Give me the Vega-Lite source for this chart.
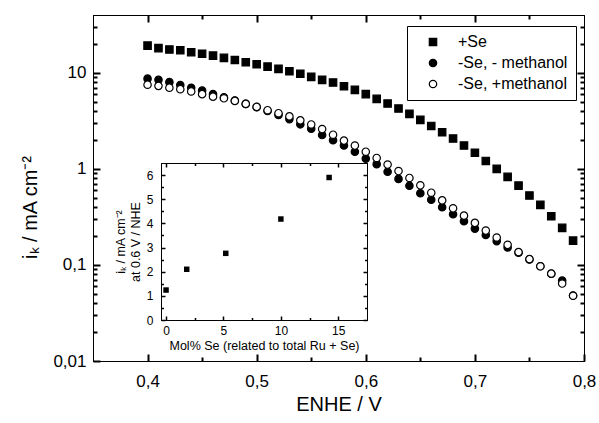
{
  "$schema": "https://vega.github.io/schema/vega-lite/v6.json",
  "width": 491,
  "height": 346,
  "autosize": {"type": "none"},
  "padding": {"left": 93, "top": 15, "right": 15, "bottom": 62},
  "background": "white",
  "config": {
    "view": {"stroke": "black", "strokeWidth": 1},
    "axis": {"labelFont": "Liberation Sans", "titleFont": "Liberation Sans", "labelColor": "black", "titleColor": "black", "domainColor": "black", "grid": false, "titleFontWeight": "normal", "labelFlush": false, "labelOverlap": false},
    "legend": {"labelFont": "Liberation Sans", "labelColor": "black"}
  },
  "datasets": {
    "main": [
      {"E": 0.40, "ik": 19.2, "series": "+Se"},
      {"E": 0.41, "ik": 18.1, "series": "+Se"},
      {"E": 0.42, "ik": 17.5, "series": "+Se"},
      {"E": 0.43, "ik": 17.2, "series": "+Se"},
      {"E": 0.44, "ik": 16.4, "series": "+Se"},
      {"E": 0.45, "ik": 15.8, "series": "+Se"},
      {"E": 0.46, "ik": 15.1, "series": "+Se"},
      {"E": 0.47, "ik": 14.3, "series": "+Se"},
      {"E": 0.48, "ik": 13.6, "series": "+Se"},
      {"E": 0.49, "ik": 12.9, "series": "+Se"},
      {"E": 0.50, "ik": 12.3, "series": "+Se"},
      {"E": 0.51, "ik": 11.6, "series": "+Se"},
      {"E": 0.52, "ik": 11.0, "series": "+Se"},
      {"E": 0.53, "ik": 10.4, "series": "+Se"},
      {"E": 0.54, "ik": 9.77, "series": "+Se"},
      {"E": 0.55, "ik": 9.08, "series": "+Se"},
      {"E": 0.56, "ik": 8.45, "series": "+Se"},
      {"E": 0.57, "ik": 7.93, "series": "+Se"},
      {"E": 0.58, "ik": 7.26, "series": "+Se"},
      {"E": 0.59, "ik": 6.65, "series": "+Se"},
      {"E": 0.60, "ik": 6.0, "series": "+Se"},
      {"E": 0.61, "ik": 5.36, "series": "+Se"},
      {"E": 0.62, "ik": 4.79, "series": "+Se"},
      {"E": 0.63, "ik": 4.25, "series": "+Se"},
      {"E": 0.64, "ik": 3.74, "series": "+Se"},
      {"E": 0.65, "ik": 3.24, "series": "+Se"},
      {"E": 0.66, "ik": 2.80, "series": "+Se"},
      {"E": 0.67, "ik": 2.41, "series": "+Se"},
      {"E": 0.68, "ik": 2.07, "series": "+Se"},
      {"E": 0.69, "ik": 1.75, "series": "+Se"},
      {"E": 0.70, "ik": 1.47, "series": "+Se"},
      {"E": 0.71, "ik": 1.21, "series": "+Se"},
      {"E": 0.72, "ik": 1.0, "series": "+Se"},
      {"E": 0.73, "ik": 0.825, "series": "+Se"},
      {"E": 0.74, "ik": 0.67, "series": "+Se"},
      {"E": 0.75, "ik": 0.528, "series": "+Se"},
      {"E": 0.76, "ik": 0.422, "series": "+Se"},
      {"E": 0.77, "ik": 0.321, "series": "+Se"},
      {"E": 0.78, "ik": 0.243, "series": "+Se"},
      {"E": 0.79, "ik": 0.179, "series": "+Se"},
      {"E": 0.40, "ik": 8.7, "series": "-Se, - methanol"},
      {"E": 0.41, "ik": 8.45, "series": "-Se, - methanol"},
      {"E": 0.42, "ik": 8.0, "series": "-Se, - methanol"},
      {"E": 0.43, "ik": 7.45, "series": "-Se, - methanol"},
      {"E": 0.44, "ik": 7.0, "series": "-Se, - methanol"},
      {"E": 0.45, "ik": 6.55, "series": "-Se, - methanol"},
      {"E": 0.46, "ik": 6.0, "series": "-Se, - methanol"},
      {"E": 0.47, "ik": 5.55, "series": "-Se, - methanol"},
      {"E": 0.48, "ik": 5.15, "series": "-Se, - methanol"},
      {"E": 0.49, "ik": 4.75, "series": "-Se, - methanol"},
      {"E": 0.50, "ik": 4.4, "series": "-Se, - methanol"},
      {"E": 0.51, "ik": 4.0, "series": "-Se, - methanol"},
      {"E": 0.52, "ik": 3.65, "series": "-Se, - methanol"},
      {"E": 0.53, "ik": 3.3, "series": "-Se, - methanol"},
      {"E": 0.54, "ik": 2.91, "series": "-Se, - methanol"},
      {"E": 0.55, "ik": 2.62, "series": "-Se, - methanol"},
      {"E": 0.56, "ik": 2.25, "series": "-Se, - methanol"},
      {"E": 0.57, "ik": 1.99, "series": "-Se, - methanol"},
      {"E": 0.58, "ik": 1.75, "series": "-Se, - methanol"},
      {"E": 0.59, "ik": 1.51, "series": "-Se, - methanol"},
      {"E": 0.60, "ik": 1.28, "series": "-Se, - methanol"},
      {"E": 0.61, "ik": 1.12, "series": "-Se, - methanol"},
      {"E": 0.62, "ik": 0.935, "series": "-Se, - methanol"},
      {"E": 0.63, "ik": 0.787, "series": "-Se, - methanol"},
      {"E": 0.64, "ik": 0.668, "series": "-Se, - methanol"},
      {"E": 0.65, "ik": 0.558, "series": "-Se, - methanol"},
      {"E": 0.66, "ik": 0.478, "series": "-Se, - methanol"},
      {"E": 0.67, "ik": 0.399, "series": "-Se, - methanol"},
      {"E": 0.68, "ik": 0.337, "series": "-Se, - methanol"},
      {"E": 0.69, "ik": 0.285, "series": "-Se, - methanol"},
      {"E": 0.70, "ik": 0.239, "series": "-Se, - methanol"},
      {"E": 0.71, "ik": 0.205, "series": "-Se, - methanol"},
      {"E": 0.72, "ik": 0.177, "series": "-Se, - methanol"},
      {"E": 0.73, "ik": 0.152, "series": "-Se, - methanol"},
      {"E": 0.74, "ik": 0.134, "series": "-Se, - methanol"},
      {"E": 0.75, "ik": 0.114, "series": "-Se, - methanol"},
      {"E": 0.76, "ik": 0.097, "series": "-Se, - methanol"},
      {"E": 0.77, "ik": 0.081, "series": "-Se, - methanol"},
      {"E": 0.78, "ik": 0.0687, "series": "-Se, - methanol"},
      {"E": 0.79, "ik": 0.048, "series": "-Se, - methanol"},
      {"E": 0.40, "ik": 7.52, "series": "-Se, +methanol"},
      {"E": 0.41, "ik": 7.32, "series": "-Se, +methanol"},
      {"E": 0.42, "ik": 7.0, "series": "-Se, +methanol"},
      {"E": 0.43, "ik": 6.75, "series": "-Se, +methanol"},
      {"E": 0.44, "ik": 6.4, "series": "-Se, +methanol"},
      {"E": 0.45, "ik": 6.0, "series": "-Se, +methanol"},
      {"E": 0.46, "ik": 5.65, "series": "-Se, +methanol"},
      {"E": 0.47, "ik": 5.43, "series": "-Se, +methanol"},
      {"E": 0.48, "ik": 5.1, "series": "-Se, +methanol"},
      {"E": 0.49, "ik": 4.75, "series": "-Se, +methanol"},
      {"E": 0.50, "ik": 4.42, "series": "-Se, +methanol"},
      {"E": 0.51, "ik": 4.08, "series": "-Se, +methanol"},
      {"E": 0.52, "ik": 3.8, "series": "-Se, +methanol"},
      {"E": 0.53, "ik": 3.52, "series": "-Se, +methanol"},
      {"E": 0.54, "ik": 3.2, "series": "-Se, +methanol"},
      {"E": 0.55, "ik": 2.9, "series": "-Se, +methanol"},
      {"E": 0.56, "ik": 2.6, "series": "-Se, +methanol"},
      {"E": 0.57, "ik": 2.27, "series": "-Se, +methanol"},
      {"E": 0.58, "ik": 1.97, "series": "-Se, +methanol"},
      {"E": 0.59, "ik": 1.75, "series": "-Se, +methanol"},
      {"E": 0.60, "ik": 1.51, "series": "-Se, +methanol"},
      {"E": 0.61, "ik": 1.30, "series": "-Se, +methanol"},
      {"E": 0.62, "ik": 1.11, "series": "-Se, +methanol"},
      {"E": 0.63, "ik": 0.95, "series": "-Se, +methanol"},
      {"E": 0.64, "ik": 0.805, "series": "-Se, +methanol"},
      {"E": 0.65, "ik": 0.675, "series": "-Se, +methanol"},
      {"E": 0.66, "ik": 0.565, "series": "-Se, +methanol"},
      {"E": 0.67, "ik": 0.47, "series": "-Se, +methanol"},
      {"E": 0.68, "ik": 0.389, "series": "-Se, +methanol"},
      {"E": 0.69, "ik": 0.326, "series": "-Se, +methanol"},
      {"E": 0.70, "ik": 0.274, "series": "-Se, +methanol"},
      {"E": 0.71, "ik": 0.228, "series": "-Se, +methanol"},
      {"E": 0.72, "ik": 0.193, "series": "-Se, +methanol"},
      {"E": 0.73, "ik": 0.162, "series": "-Se, +methanol"},
      {"E": 0.74, "ik": 0.136, "series": "-Se, +methanol"},
      {"E": 0.75, "ik": 0.115, "series": "-Se, +methanol"},
      {"E": 0.76, "ik": 0.0968, "series": "-Se, +methanol"},
      {"E": 0.77, "ik": 0.0812, "series": "-Se, +methanol"},
      {"E": 0.78, "ik": 0.064, "series": "-Se, +methanol"},
      {"E": 0.79, "ik": 0.0478, "series": "-Se, +methanol"}
    ],
    "inset": [
      {"mol": 0, "ik06": 1.24},
      {"mol": 1.8, "ik06": 2.1},
      {"mol": 5.2, "ik06": 2.76},
      {"mol": 10, "ik06": 4.18},
      {"mol": 14.2, "ik06": 5.9}
    ]
  },
  "resolve": {"scale": {"x": "independent", "y": "independent"}},
  "layer": [
    {
      "data": {"name": "main"},
      "mark": {"type": "point", "size": 55, "strokeWidth": 1.2, "opacity": 1},
      "encoding": {
        "x": {"field": "E", "type": "quantitative", "scale": {"domain": [0.35, 0.8], "nice": false, "zero": false},
          "axis": {"orient": "bottom", "values": [0.4, 0.5, 0.6, 0.7, 0.8], "tickSize": -7, "tickColor": "black", "tickWidth": 2, "labelPadding": 19, "labelFontSize": 17, "domain": true,
            "labelExpr": "replace(format(datum.value, '.1f'), '.', ',')",
            "title": "ENHE / V", "titleFontSize": 20, "titleY": 49, "titleBaseline": "alphabetic"}},
        "y": {"field": "ik", "type": "quantitative", "scale": {"type": "log", "domain": [0.01, 40], "nice": false},
          "axis": {"orient": "left", "values": [0.01, 0.1, 1, 10], "tickSize": -7, "tickColor": "black", "tickWidth": 2, "labelPadding": 14, "labelFontSize": 17, "domain": true,
            "labelExpr": "datum.value >= 1 ? format(datum.value, 'd') : replace(format(datum.value, '~g'), '.', ',')",
            "title": "iₖ / mA cm⁻²", "titleFontSize": 20, "titleX": -63, "titleY": 192, "titleAngle": -90, "titleAlign": "center", "titleBaseline": "middle"}},
        "shape": {"field": "series", "type": "nominal",
          "scale": {"domain": ["+Se", "-Se, - methanol", "-Se, +methanol"], "range": ["square", "circle", "circle"]},
          "legend": {"title": null, "orient": "none", "legendX": 314, "legendY": 11, "strokeColor": "black", "padding": 8, "labelFontSize": 16, "symbolSize": 55, "symbolStrokeWidth": 1.2, "symbolOffset": 10, "labelOffset": 17, "rowPadding": 5}},
        "fill": {"field": "series", "type": "nominal",
          "scale": {"domain": ["+Se", "-Se, - methanol", "-Se, +methanol"], "range": ["black", "black", "white"]},
          "legend": {"title": null, "orient": "none", "legendX": 314, "legendY": 11, "strokeColor": "black", "padding": 8, "labelFontSize": 16, "symbolSize": 55, "symbolStrokeWidth": 1.2, "symbolOffset": 10, "labelOffset": 17, "rowPadding": 5}},
        "stroke": {"field": "series", "type": "nominal",
          "scale": {"domain": ["+Se", "-Se, - methanol", "-Se, +methanol"], "range": ["black", "black", "black"]},
          "legend": {"title": null, "orient": "none", "legendX": 314, "legendY": 11, "strokeColor": "black", "padding": 8, "labelFontSize": 16, "symbolSize": 55, "symbolStrokeWidth": 1.2, "symbolOffset": 10, "labelOffset": 17, "rowPadding": 5}}
      }
    },
    {
      "data": {"name": "main"},
      "mark": {"type": "point", "opacity": 0},
      "encoding": {
        "x": {"field": "E", "type": "quantitative", "scale": {"domain": [0.35, 0.8], "nice": false, "zero": false},
          "axis": {"orient": "top", "values": [0.4, 0.5, 0.6, 0.7], "tickSize": -7, "tickColor": "black", "tickWidth": 2, "labels": false, "domain": true, "title": null}},
        "y": {"field": "ik", "type": "quantitative", "scale": {"type": "log", "domain": [0.01, 40], "nice": false},
          "axis": {"orient": "right", "values": [0.1, 1, 10], "tickSize": -7, "tickColor": "black", "tickWidth": 2, "labels": false, "domain": true, "title": null}}
      }
    },
    {
      "data": {"name": "main"},
      "mark": {"type": "point", "opacity": 0},
      "encoding": {
        "x": {"field": "E", "type": "quantitative", "scale": {"domain": [0.35, 0.8], "nice": false, "zero": false},
          "axis": {"orient": "bottom", "values": [0.45, 0.55, 0.65, 0.75], "tickSize": -4, "tickColor": "black", "tickWidth": 2, "labels": false, "domain": true, "title": null}},
        "y": {"field": "ik", "type": "quantitative", "scale": {"type": "log", "domain": [0.01, 40], "nice": false},
          "axis": {"orient": "left", "values": [0.02, 0.03, 0.04, 0.05, 0.06, 0.07, 0.08, 0.09, 0.2, 0.3, 0.4, 0.5, 0.6, 0.7, 0.8, 0.9, 2, 3, 4, 5, 6, 7, 8, 9, 20, 30], "tickSize": -4, "tickColor": "black", "tickWidth": 2, "labels": false, "domain": true, "title": null}}
      }
    },
    {
      "data": {"name": "main"},
      "mark": {"type": "point", "opacity": 0},
      "encoding": {
        "x": {"field": "E", "type": "quantitative", "scale": {"domain": [0.35, 0.8], "nice": false, "zero": false},
          "axis": {"orient": "top", "values": [0.45, 0.55, 0.65, 0.75], "tickSize": -4, "tickColor": "black", "tickWidth": 2, "labels": false, "domain": true, "title": null}},
        "y": {"field": "ik", "type": "quantitative", "scale": {"type": "log", "domain": [0.01, 40], "nice": false},
          "axis": {"orient": "right", "values": [0.02, 0.03, 0.04, 0.05, 0.06, 0.07, 0.08, 0.09, 0.2, 0.3, 0.4, 0.5, 0.6, 0.7, 0.8, 0.9, 2, 3, 4, 5, 6, 7, 8, 9, 20, 30], "tickSize": -4, "tickColor": "black", "tickWidth": 2, "labels": false, "domain": true, "title": null}}
      }
    },
    {
      "data": {"name": "inset"},
      "mark": {"type": "square", "size": 30, "color": "black", "opacity": 1},
      "encoding": {
        "x": {"field": "mol", "type": "quantitative", "scale": {"domain": [-0.44, 17.5], "range": [68, 274], "nice": false, "zero": false},
          "axis": {"orient": "bottom", "offset": -41, "values": [0, 5, 10, 15], "tickSize": -4, "tickColor": "black", "tickWidth": 1.5, "labelPadding": 9, "labelFontSize": 12, "domain": true,
            "title": "Mol% Se (related to total Ru + Se)", "titleFontSize": 12.5, "titleY": 25, "titleBaseline": "middle"}},
        "y": {"field": "ik06", "type": "quantitative", "scale": {"domain": [0, 6.5], "range": [305, 148], "nice": false, "zero": false},
          "axis": {"orient": "left", "offset": -68, "values": [0, 1, 2, 3, 4, 5, 6], "tickSize": -4, "tickColor": "black", "tickWidth": 1.5, "labelPadding": 12, "labelFontSize": 12, "domain": true,
            "title": ["iₖ / mA cm⁻²", "at 0.6 V / NHE"], "titleFontSize": 12.5, "titleLineHeight": 15, "titleX": -41, "titleAngle": -90, "titleAlign": "center", "titleBaseline": "middle"}}
      }
    },
    {
      "data": {"name": "inset"},
      "mark": {"type": "point", "opacity": 0},
      "encoding": {
        "x": {"field": "mol", "type": "quantitative", "scale": {"domain": [-0.44, 17.5], "range": [68, 274], "nice": false, "zero": false},
          "axis": {"orient": "top", "offset": -148, "values": [0, 5, 10, 15], "tickSize": -4, "tickColor": "black", "tickWidth": 1.5, "labels": false, "domain": true, "title": null}},
        "y": {"field": "ik06", "type": "quantitative", "scale": {"domain": [0, 6.5], "range": [305, 148], "nice": false, "zero": false},
          "axis": {"orient": "right", "offset": -217, "values": [0, 1, 2, 3, 4, 5, 6], "tickSize": -4, "tickColor": "black", "tickWidth": 1.5, "labels": false, "domain": true, "title": null}}
      }
    },
    {
      "data": {"name": "inset"},
      "mark": {"type": "point", "opacity": 0},
      "encoding": {
        "x": {"field": "mol", "type": "quantitative", "scale": {"domain": [-0.44, 17.5], "range": [68, 274], "nice": false, "zero": false},
          "axis": {"orient": "bottom", "offset": -41, "values": [2.5, 7.5, 12.5], "tickSize": -2.5, "tickColor": "black", "tickWidth": 1.5, "labels": false, "domain": true, "title": null}},
        "y": {"field": "ik06", "type": "quantitative", "scale": {"domain": [0, 6.5], "range": [305, 148], "nice": false, "zero": false},
          "axis": {"orient": "left", "offset": -68, "values": [0.5, 1.5, 2.5, 3.5, 4.5, 5.5], "tickSize": -2.5, "tickColor": "black", "tickWidth": 1.5, "labels": false, "domain": true, "title": null}}
      }
    },
    {
      "data": {"name": "inset"},
      "mark": {"type": "point", "opacity": 0},
      "encoding": {
        "x": {"field": "mol", "type": "quantitative", "scale": {"domain": [-0.44, 17.5], "range": [68, 274], "nice": false, "zero": false},
          "axis": {"orient": "top", "offset": -148, "values": [2.5, 7.5, 12.5], "tickSize": -2.5, "tickColor": "black", "tickWidth": 1.5, "labels": false, "domain": true, "title": null}},
        "y": {"field": "ik06", "type": "quantitative", "scale": {"domain": [0, 6.5], "range": [305, 148], "nice": false, "zero": false},
          "axis": {"orient": "right", "offset": -217, "values": [0.5, 1.5, 2.5, 3.5, 4.5, 5.5], "tickSize": -2.5, "tickColor": "black", "tickWidth": 1.5, "labels": false, "domain": true, "title": null}}
      }
    }
  ]
}
